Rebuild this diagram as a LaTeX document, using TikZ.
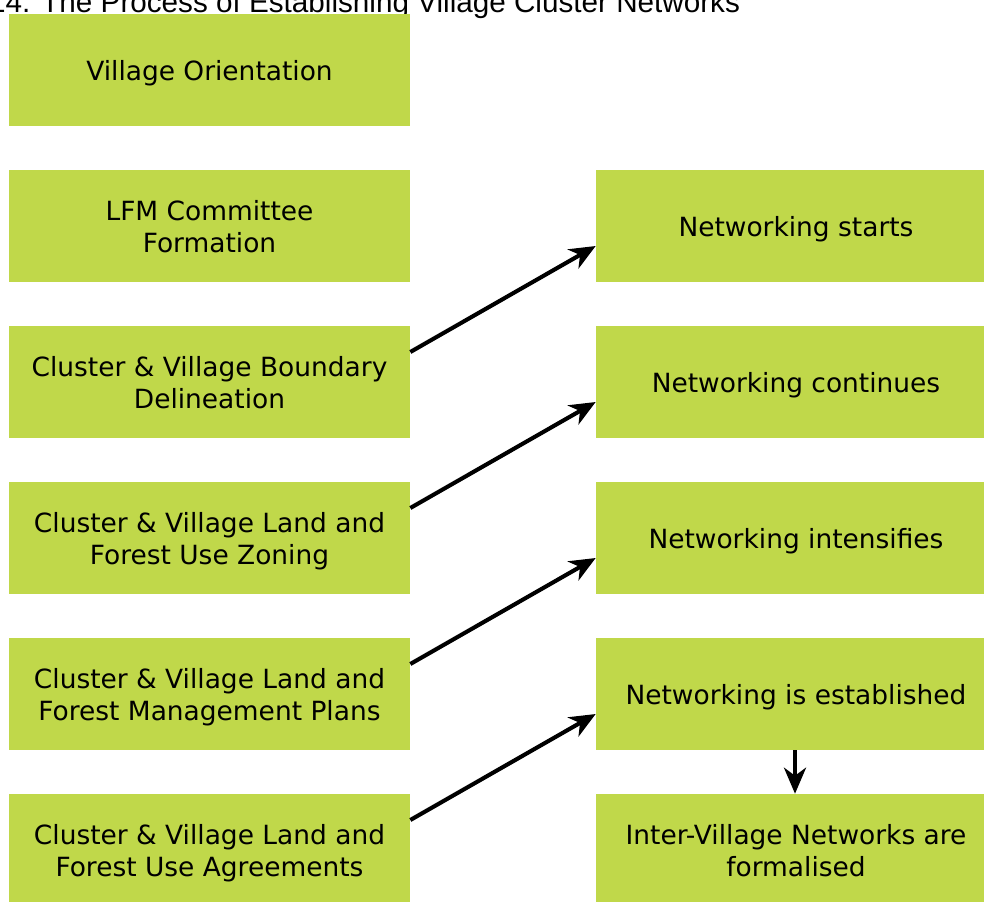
\documentclass[tikz,border=0pt]{standalone}
\usepackage{fontspec}
\setmainfont{DejaVu Sans}
\newfontfamily\headfont{Liberation Sans}
\usetikzlibrary{arrows.meta}
\definecolor{leaf}{RGB}{192,216,74}
\tikzset{
	box/.style={fill=leaf,minimum height=2.8cm,inner sep=0pt},
	lbox/.style={box,minimum width=10.025cm},
	rbox/.style={box,minimum width=9.7cm},
	txt/.style={align=center,inner sep=0pt,text depth=0pt,font=\fontsize{18.8pt}{22.8pt}\selectfont},
	link/.style={line width=2.9pt,-{Stealth[length=0.65cm,width=0.55cm,inset=0.2cm]}}
}

\begin{document}
\begin{tikzpicture}[x=0.025cm,y=-0.025cm]
	\useasboundingbox (0,0) rectangle (984,901);
	\node[anchor=base east,font=\headfont\fontsize{21.1pt}{25pt}\selectfont] (title) at (745,13) {14. The Process of Establishing Village Cluster Networks};
	\foreach \t [count=\i] in {{Village Orientation},{LFM Committee\\Formation},{Cluster \& Village Boundary\\Delineation},{Cluster \& Village Land and\\Forest Use Zoning},{Cluster \& Village Land and\\Forest Management Plans},{Cluster \& Village Land and\\Forest Use Agreements}}
		\node[lbox,label={[txt]center:\t}] (l\i) at (209.5,{70+156*(\i-1)}) {};
	\foreach \t [count=\i from 2] in {{Networking starts},{Networking continues},{Networking intensifies},{Networking is established},{Inter-Village Networks are\\formalised}}
		\node[rbox,label={[txt,xshift=.15cm]center:\t}] (r\i) at (790,{70+156*(\i-1)}) {};
	\foreach \i/\j in {3/2,4/3,5/4,6/5}
		\draw[link] ([yshift=.75cm]l\i.east) -- ([yshift=-.5cm]r\j.west);
	\draw[link] ([xshift=.125cm]r5.south) -- ([xshift=.125cm]r6.north);
\end{tikzpicture}
\end{document}
